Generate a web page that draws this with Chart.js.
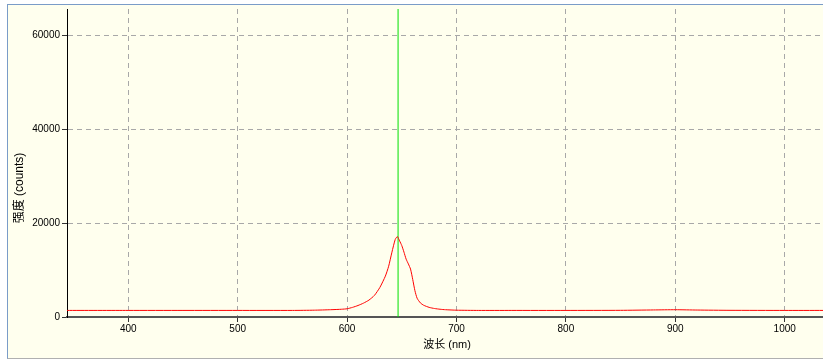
<!DOCTYPE html>
<html>
<head>
<meta charset="utf-8">
<script src="https://cdn.jsdelivr.net/npm/chart.js@4/dist/chart.umd.min.js"></script>
<style>
  html, body { margin: 0; padding: 0; background: #ffffff; }
  #frame {
    position: absolute; left: 7px; top: 4px; width: 830px; height: 353px;
    background: #ffffee;
    border-top: 1px solid #7a9cc8; border-left: 1px solid #7a9cc8; border-bottom: 1px solid #b0b0b0;
  }
  #wrap { position: absolute; left: 0; top: 0; width: 823px; height: 360px; }
</style>
</head>
<body>
<div id="frame"></div>
<div id="wrap"><canvas id="spectrumChart" width="823" height="360"></canvas></div>
<script>
// spectrum (wavelength nm / counts)
var wavelengths = [344, 400, 450, 500, 550, 570, 585, 595, 600, 605, 610, 615, 620, 625, 630, 635, 638, 641, 644, 646,
                   648, 650, 652, 654, 656, 658, 660, 662, 664, 667, 670, 675, 680, 685, 690, 700, 720, 750, 800, 850,
                   880, 900, 920, 950, 1000, 1035];
var counts = [1400, 1400, 1400, 1400, 1400, 1450, 1550, 1650, 1750, 2050, 2450, 2950, 3600, 4600, 6300, 8700, 10800, 13800, 16500, 17100,
              16200, 15200, 13800, 12300, 11300, 10200, 8000, 5600, 4000, 3000, 2500, 2050, 1800, 1650, 1550, 1450, 1400, 1400, 1400, 1420,
              1500, 1550, 1480, 1420, 1400, 1400];

// green marker line
var markerWavelength = 646.6;
var markerRange = [0, 65535];

var xTicks = [400, 500, 600, 700, 800, 900, 1000];
var yTicks = [0, 20000, 40000, 60000];

var xTitle = '波长 (nm)';
var yTitle = '强度 (counts)';

var fontFamily = '"Liberation Sans", Arial, "Noto Sans CJK SC", sans-serif';

var spectrumPoints = wavelengths.map(function (w, i) { return { x: w, y: counts[i] }; });
var markerPoints = markerRange.map(function (v) { return { x: markerWavelength, y: v }; });

// axis titles drawn by hand so they sit where the original has them
var axisTitles = {
    id: 'axisTitles',
    afterDraw: function (chart) {
        var ctx = chart.ctx;
        ctx.save();
        ctx.fillStyle = '#000000';
        ctx.font = '11px ' + fontFamily;
        ctx.textAlign = 'center';
        ctx.textBaseline = 'middle';
        ctx.fillText(xTitle, 447, 345);
        ctx.font = '12px ' + fontFamily;
        ctx.translate(20, 188);
        ctx.rotate(-Math.PI / 2);
        ctx.fillText(yTitle, 0, 0);
        ctx.restore();
    }
};

var ctx = document.getElementById('spectrumChart').getContext('2d');
var spectrumChart = new Chart(ctx, {
    type: 'line',
    data: {
        datasets: [
            {
                data: spectrumPoints,
                borderColor: '#ff0000',
                borderWidth: 1,
                pointRadius: 0,
                tension: 0.2
            },
            {
                data: markerPoints,
                borderColor: '#00e000',
                borderWidth: 1,
                pointRadius: 0
            }
        ]
    },
    options: {
        responsive: false,
        animation: false,
        layout: { padding: { top: 9, right: 0, left: 0, bottom: 0 } },
        plugins: {
            legend: { display: false },
            tooltip: { enabled: false }
        },
        scales: {
            x: {
                type: 'linear',
                min: 344,
                max: 1035,
                afterBuildTicks: function (scale) {
                    scale.ticks = xTicks.map(function (v) { return { value: v }; });
                },
                afterFit: function (scale) { scale.height = 43; },
                border: { color: '#555555', width: 2, dash: [5, 4] },
                grid: {
                    color: '#a8a8a8',
                    tickLength: 5,
                    tickColor: '#333333',
                    tickBorderDash: []
                },
                ticks: {
                    color: '#000000',
                    padding: 1,
                    maxRotation: 0,
                    font: { family: fontFamily, size: 10 },
                    callback: function (v) { return String(v); }
                }
            },
            y: {
                min: 0,
                max: 65535,
                afterBuildTicks: function (scale) {
                    scale.ticks = yTicks.map(function (v) { return { value: v }; });
                },
                afterFit: function (scale) { scale.width = 67; },
                border: { color: '#000000', width: 1, dash: [5, 4] },
                grid: {
                    color: '#a8a8a8',
                    tickLength: 5,
                    tickColor: '#333333',
                    tickBorderDash: []
                },
                ticks: {
                    color: '#000000',
                    padding: 2,
                    font: { family: fontFamily, size: 10 },
                    callback: function (v) { return String(v); }
                }
            }
        }
    },
    plugins: [axisTitles]
});
</script>
</body>
</html>
